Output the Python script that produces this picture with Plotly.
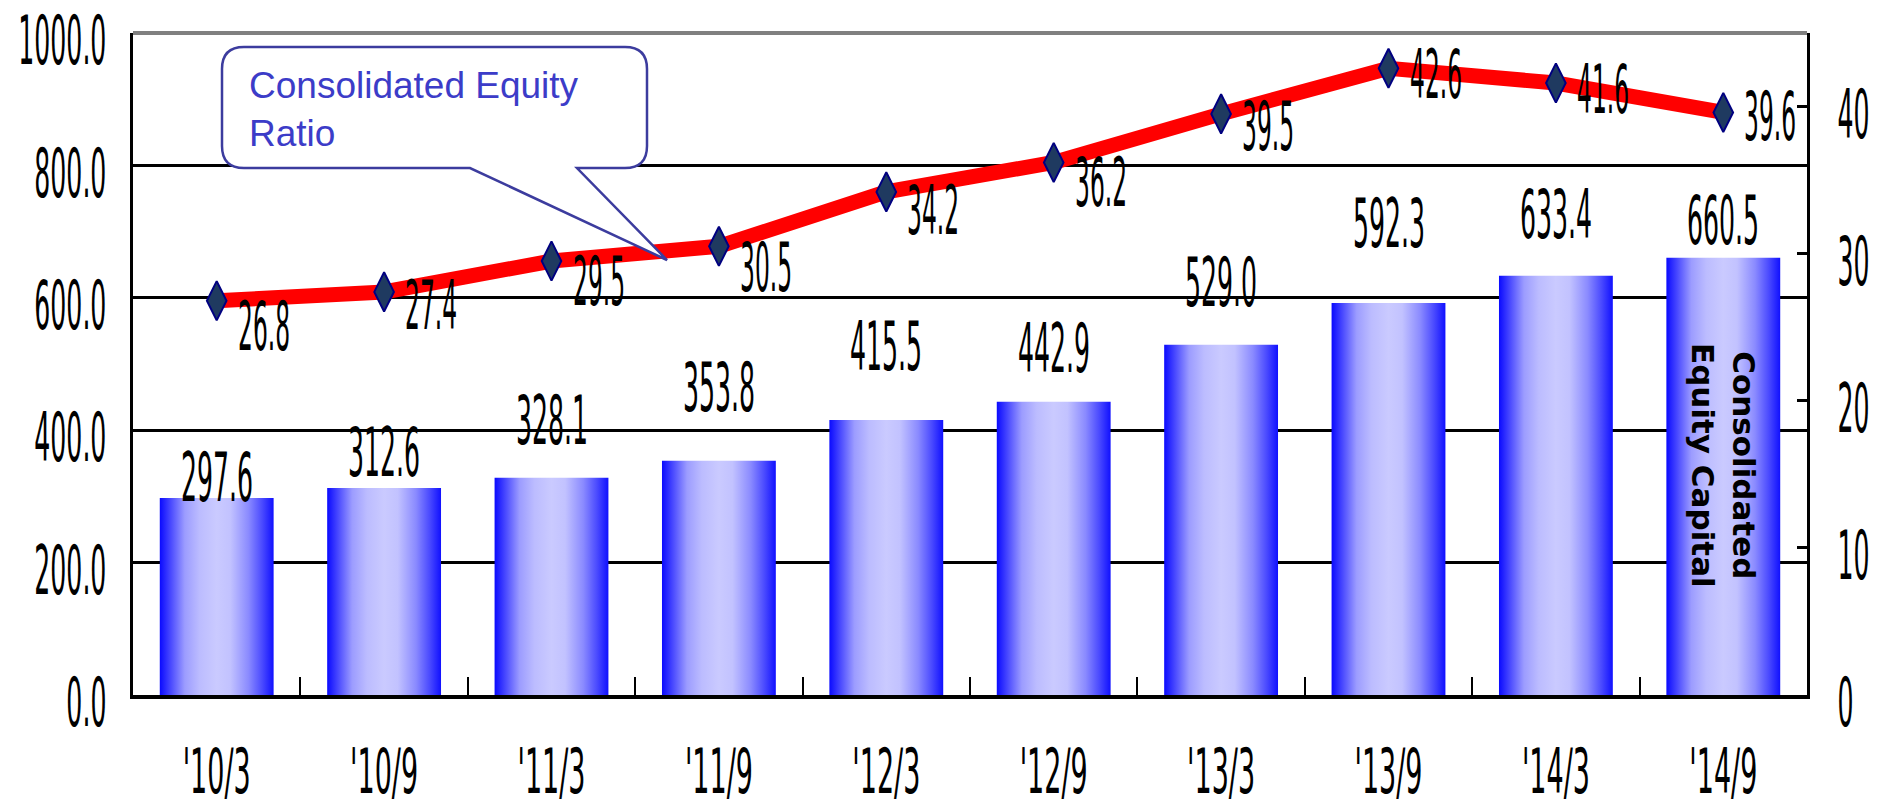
import plotly.graph_objects as go

# Half-year periods and the two series
periods = ["'10/3", "'10/9", "'11/3", "'11/9", "'12/3", "'12/9", "'13/3", "'13/9", "'14/3", "'14/9"]
equity_capital = [297.6, 312.6, 328.1, 353.8, 415.5, 442.9, 529.0, 592.3, 633.4, 660.5]
equity_ratio = [26.8, 27.4, 29.5, 30.5, 34.2, 36.2, 39.5, 42.6, 41.6, 39.6]

# Label placement in pixels: lift above each bar top, drop below each ratio marker
bar_label_lift = [19, 35, 56, 72, 72, 52, 61, 78, 60, 36]
ratio_label_drop = [26, 14, 21, 22, 19, 21, 13, 7, 7, 5]

NARROW = "DejaVu Sans Condensed, Liberation Sans Narrow, sans-serif"
W, H = 1879, 809
ML, MR, MT, MB = 133, 72, 33, 114
PW, PH = W - ML - MR, H - MT - MB
BAR_HALF = 0.34

bar_scale = [
    [0.00, "#0A0AFF"], [0.10, "#4C4CFF"], [0.22, "#9C9CFF"], [0.35, "#BCBCFF"],
    [0.50, "#CACAFF"], [0.62, "#C2C2FF"], [0.78, "#8A8AFF"], [0.90, "#4A4AFF"],
    [1.00, "#1010FF"],
]

fig = go.Figure()

# Capital bars: each bar is a filled outline so it can carry a horizontal gradient
for i, v in enumerate(equity_capital):
    fig.add_trace(go.Scatter(
        x=[i - BAR_HALF, i + BAR_HALF, i + BAR_HALF, i - BAR_HALF, i - BAR_HALF],
        y=[0, 0, v, v, 0],
        mode="lines", fill="toself",
        line=dict(width=0, color="rgba(0,0,0,0)"),
        fillgradient=dict(type="horizontal", colorscale=bar_scale),
        hoverinfo="skip", showlegend=False,
    ))

# Equity ratio line on the right axis
fig.add_trace(go.Scatter(
    x=list(range(len(periods))), y=equity_ratio, yaxis="y2",
    mode="lines+markers",
    line=dict(color="#FF0000", width=15),
    marker=dict(symbol="diamond-tall", size=28, color="#1F3A60",
                line=dict(color="#000080", width=2)),
    hoverinfo="skip", showlegend=False,
))

annotations = []
for i, v in enumerate(equity_capital):
    annotations.append(dict(
        x=i, y=v, xref="x", yref="y", text=f"{v:.1f}", showarrow=False,
        xanchor="center", yanchor="middle", yshift=bar_label_lift[i],
        font=dict(family=NARROW, size=28, color="black"),
    ))
for i, r in enumerate(equity_ratio):
    annotations.append(dict(
        x=i, y=r, xref="x", yref="y2", text=f"{r:.1f}", showarrow=False,
        xanchor="left", yanchor="middle", xshift=19, yshift=-ratio_label_drop[i],
        font=dict(family=NARROW, size=26, color="black"),
    ))

# Series name written vertically inside the last bar
annotations.append(dict(
    x=len(periods) - 1, y=347, xref="x", yref="y",
    text="Consolidated<br>Equity Capital", textangle=90, showarrow=False,
    xanchor="center", yanchor="middle",
    font=dict(family="DejaVu Sans, Liberation Sans, sans-serif", size=31, color="black", weight="bold"),
))


def px(x):
    return (x - ML) / PW


def py(y):
    return (MT + PH - y) / PH


# Callout text for the ratio line
annotations.append(dict(
    x=px(247), y=py(110), xref="paper", yref="paper",
    text="Consolidated Equity<br>Ratio", showarrow=False, align="left",
    xanchor="left", yanchor="middle",
    font=dict(family="Liberation Sans, Arial, sans-serif", size=37, color="#3C3CC8"),
))


def pt(x, y):
    return f"{px(x):.5f},{py(y):.5f}"


x0, x1, y0, y1, rad = 222, 647, 47, 168, 22
tail_a, tail_b, tip = 470, 577, (667, 260)
callout = (
    f"M{pt(x0 + rad, y0)} L{pt(x1 - rad, y0)} Q{pt(x1, y0)} {pt(x1, y0 + rad)} "
    f"L{pt(x1, y1 - rad)} Q{pt(x1, y1)} {pt(x1 - rad, y1)} "
    f"L{pt(tail_b, y1)} L{pt(*tip)} L{pt(tail_a, y1)} "
    f"L{pt(x0 + rad, y1)} Q{pt(x0, y1)} {pt(x0, y1 - rad)} "
    f"L{pt(x0, y0 + rad)} Q{pt(x0, y0)} {pt(x0 + rad, y0)} Z"
)

shapes = [
    dict(type="line", xref="paper", yref="paper", x0=0, x1=1, y0=1, y1=1,
         line=dict(color="#808080", width=4), layer="above"),
    dict(type="path", xref="paper", yref="paper", path=callout,
         fillcolor="white", line=dict(color="#3C3C9E", width=2.5), layer="above"),
]

fig.update_layout(
    width=W, height=H,
    margin=dict(l=ML, r=MR, t=MT, b=MB, pad=0, autoexpand=False),
    paper_bgcolor="white", plot_bgcolor="white",
    showlegend=False,
    annotations=annotations,
    shapes=shapes,
    xaxis=dict(
        range=[-0.5, len(periods) - 0.5], tickmode="array",
        tickvals=list(range(len(periods))), ticktext=periods,
        showgrid=False, zeroline=False, showline=True,
        linecolor="black", linewidth=4, ticks="",
        ticklabelstandoff=46, automargin=False,
        tickfont=dict(family=NARROW, size=30, color="black"),
        minor=dict(tickmode="array", tickvals=[k + 0.5 for k in range(len(periods) - 1)],
                   ticks="inside", ticklen=18, tickwidth=2, tickcolor="black",
                   showgrid=False),
        fixedrange=True,
    ),
    yaxis=dict(
        range=[0, 1000], tickmode="linear", tick0=0, dtick=200, tickformat=".1f",
        showgrid=True, gridcolor="black", gridwidth=3,
        zeroline=False, showline=True, linecolor="black", linewidth=3,
        ticks="", ticklabelstandoff=18, automargin=False,
        tickfont=dict(family=NARROW, size=28, color="black"),
        fixedrange=True,
    ),
    yaxis2=dict(
        range=[0, 45], tickmode="linear", tick0=0, dtick=10,
        overlaying="y", side="right",
        showgrid=False, zeroline=False, showline=True,
        linecolor="black", linewidth=3,
        ticks="inside", ticklen=10, tickwidth=3, tickcolor="black",
        ticklabelstandoff=22, automargin=False,
        tickfont=dict(family=NARROW, size=28, color="black"),
        fixedrange=True,
    ),
)

# Stretch the condensed numeric labels vertically about their own centre
# (digits end up about 49 px tall, category labels a little shorter);
# value-axis labels sit slightly below their gridline.
stretch_js = """
var gd = document.getElementById('{plot_id}');
gd.querySelectorAll('svg text').forEach(function (t) {
  var ff = t.style.fontFamily || '';
  if (ff.indexOf('Condensed') < 0) return;
  var p = t.parentNode;
  var isY = p && p.classList && (p.classList.contains('ytick') || p.classList.contains('y2tick'));
  var isX = p && p.classList && p.classList.contains('xtick');
  var fs = parseFloat(t.style.fontSize) || 28;
  var K = (isX ? 46 : 49) / (0.729 * fs);
  var dy = isY ? 8 : 0;
  var b = t.getBBox();
  var cy = b.y + b.height / 2;
  var tr = t.getAttribute('transform') || '';
  t.setAttribute('transform', tr + ' translate(0,' + (cy + dy) + ') scale(1,' + K + ') translate(0,' + (-cy) + ')');
});
"""

fig.write_html("out.html", config={"displayModeBar": False}, post_script=stretch_js)
